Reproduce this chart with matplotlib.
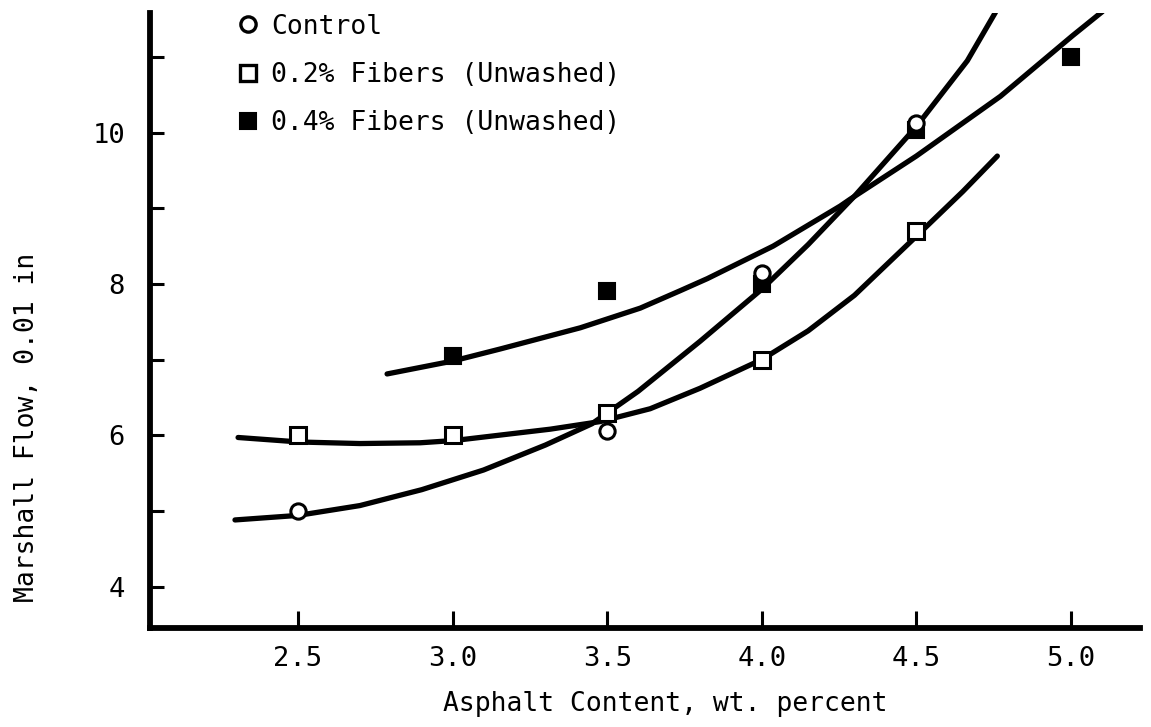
import matplotlib.pyplot as plt
from matplotlib.lines import Line2D

plt.rcParams['font.family'] = ['DejaVu Sans Mono']

# measured points
ctrl_x = [2.5, 3.5, 4.0, 4.5]
ctrl_y = [5.0, 6.05, 8.15, 10.13]
f02_x = [2.5, 3.0, 3.5, 4.0, 4.5]
f02_y = [6.0, 6.0, 6.3, 7.0, 8.7]
f04_x = [3.0, 3.5, 4.0, 4.5, 5.0]
f04_y = [7.05, 7.9, 8.0, 10.03, 11.0]

# hand-drawn trend curves
ctrl_curve_x = [2.296, 2.5, 2.7, 2.9, 3.1, 3.3, 3.45, 3.6, 3.8, 4.0, 4.15, 4.3, 4.5, 4.665, 4.756]
ctrl_curve_y = [4.88, 4.94, 5.07, 5.28, 5.54, 5.87, 6.15, 6.58, 7.24, 7.93, 8.52, 9.16, 10.08, 10.95, 11.59]
f02_curve_x = [2.306, 2.506, 2.70, 2.895, 3.005, 3.316, 3.477, 3.639, 3.8, 4.0, 4.15, 4.3, 4.5, 4.65, 4.762]
f02_curve_y = [5.97, 5.91, 5.89, 5.90, 5.93, 6.08, 6.18, 6.35, 6.62, 7.0, 7.38, 7.85, 8.63, 9.22, 9.69]
f04_curve_x = [2.788, 3.0, 3.154, 3.413, 3.607, 3.736, 3.824, 4.037, 4.254, 4.286, 4.5, 4.772, 5.005, 5.102]
f04_curve_y = [6.81, 6.98, 7.14, 7.42, 7.68, 7.91, 8.07, 8.50, 9.03, 9.12, 9.69, 10.48, 11.28, 11.60]

labels = ['Control', '0.2% Fibers (Unwashed)', '0.4% Fibers (Unwashed)']
xticks = [2.5, 3.0, 3.5, 4.0, 4.5, 5.0]
yticks = [4, 6, 8, 10]
yminor = [5, 7, 9, 11]

fig = plt.figure(figsize=(11.51, 7.27), dpi=100)
ax = fig.add_axes([0.1303, 0.136, 0.860, 0.846])

lw = 3.8
for cx, cy in [(ctrl_curve_x, ctrl_curve_y), (f02_curve_x, f02_curve_y), (f04_curve_x, f04_curve_y)]:
    ax.plot(cx, cy, color='black', lw=lw, solid_capstyle='round', solid_joinstyle='round', zorder=2)

ax.plot(f04_x, f04_y, ls='none', marker='s', ms=11.5, mfc='black', mec='black', mew=1.5, zorder=3)
ax.plot(f02_x, f02_y, ls='none', marker='s', ms=11, mfc='white', mec='black', mew=2.2, zorder=4)
ax.plot(ctrl_x, ctrl_y, ls='none', marker='o', ms=11, mfc='white', mec='black', mew=2.2, zorder=5)

ax.set_xlim(2.021, 5.223)
ax.set_ylim(3.45, 11.58)

ax.set_xticks(xticks)
ax.set_xticklabels([f'{v:.1f}' for v in xticks])
ax.set_yticks(yticks)
ax.set_yticks(yminor, minor=True)

for side in ['top', 'right']:
    ax.spines[side].set_visible(False)
for side in ['left', 'bottom']:
    ax.spines[side].set_linewidth(4.2)
    ax.spines[side].set_capstyle('projecting')

ax.tick_params(axis='both', which='both', direction='in', width=2.2, labelsize=19.5, colors='black')
ax.tick_params(axis='x', which='major', length=12, pad=13)
ax.tick_params(axis='y', which='both', length=10, pad=18)

ax.set_xlabel('Asphalt Content, wt. percent', fontsize=19)
ax.set_ylabel('Marshall Flow, 0.01 in', fontsize=19)
ax.xaxis.set_label_coords(0.521, -0.103)
ax.yaxis.set_label_coords(-0.111, 0.327)

handles = [
    Line2D([], [], ls='none', marker='o', ms=11, mfc='white', mec='black', mew=2.4),
    Line2D([], [], ls='none', marker='s', ms=11, mfc='white', mec='black', mew=2.4),
    Line2D([], [], ls='none', marker='s', ms=11.5, mfc='black', mec='black', mew=1.5),
]
ax.legend(handles, labels, loc='upper left', bbox_to_anchor=(0.0857, 0.999), frameon=False,
          fontsize=19, handlelength=1.0, handletextpad=0.37, labelspacing=0.84,
          borderaxespad=0, borderpad=0)

fig.savefig('out.png', dpi=100)
